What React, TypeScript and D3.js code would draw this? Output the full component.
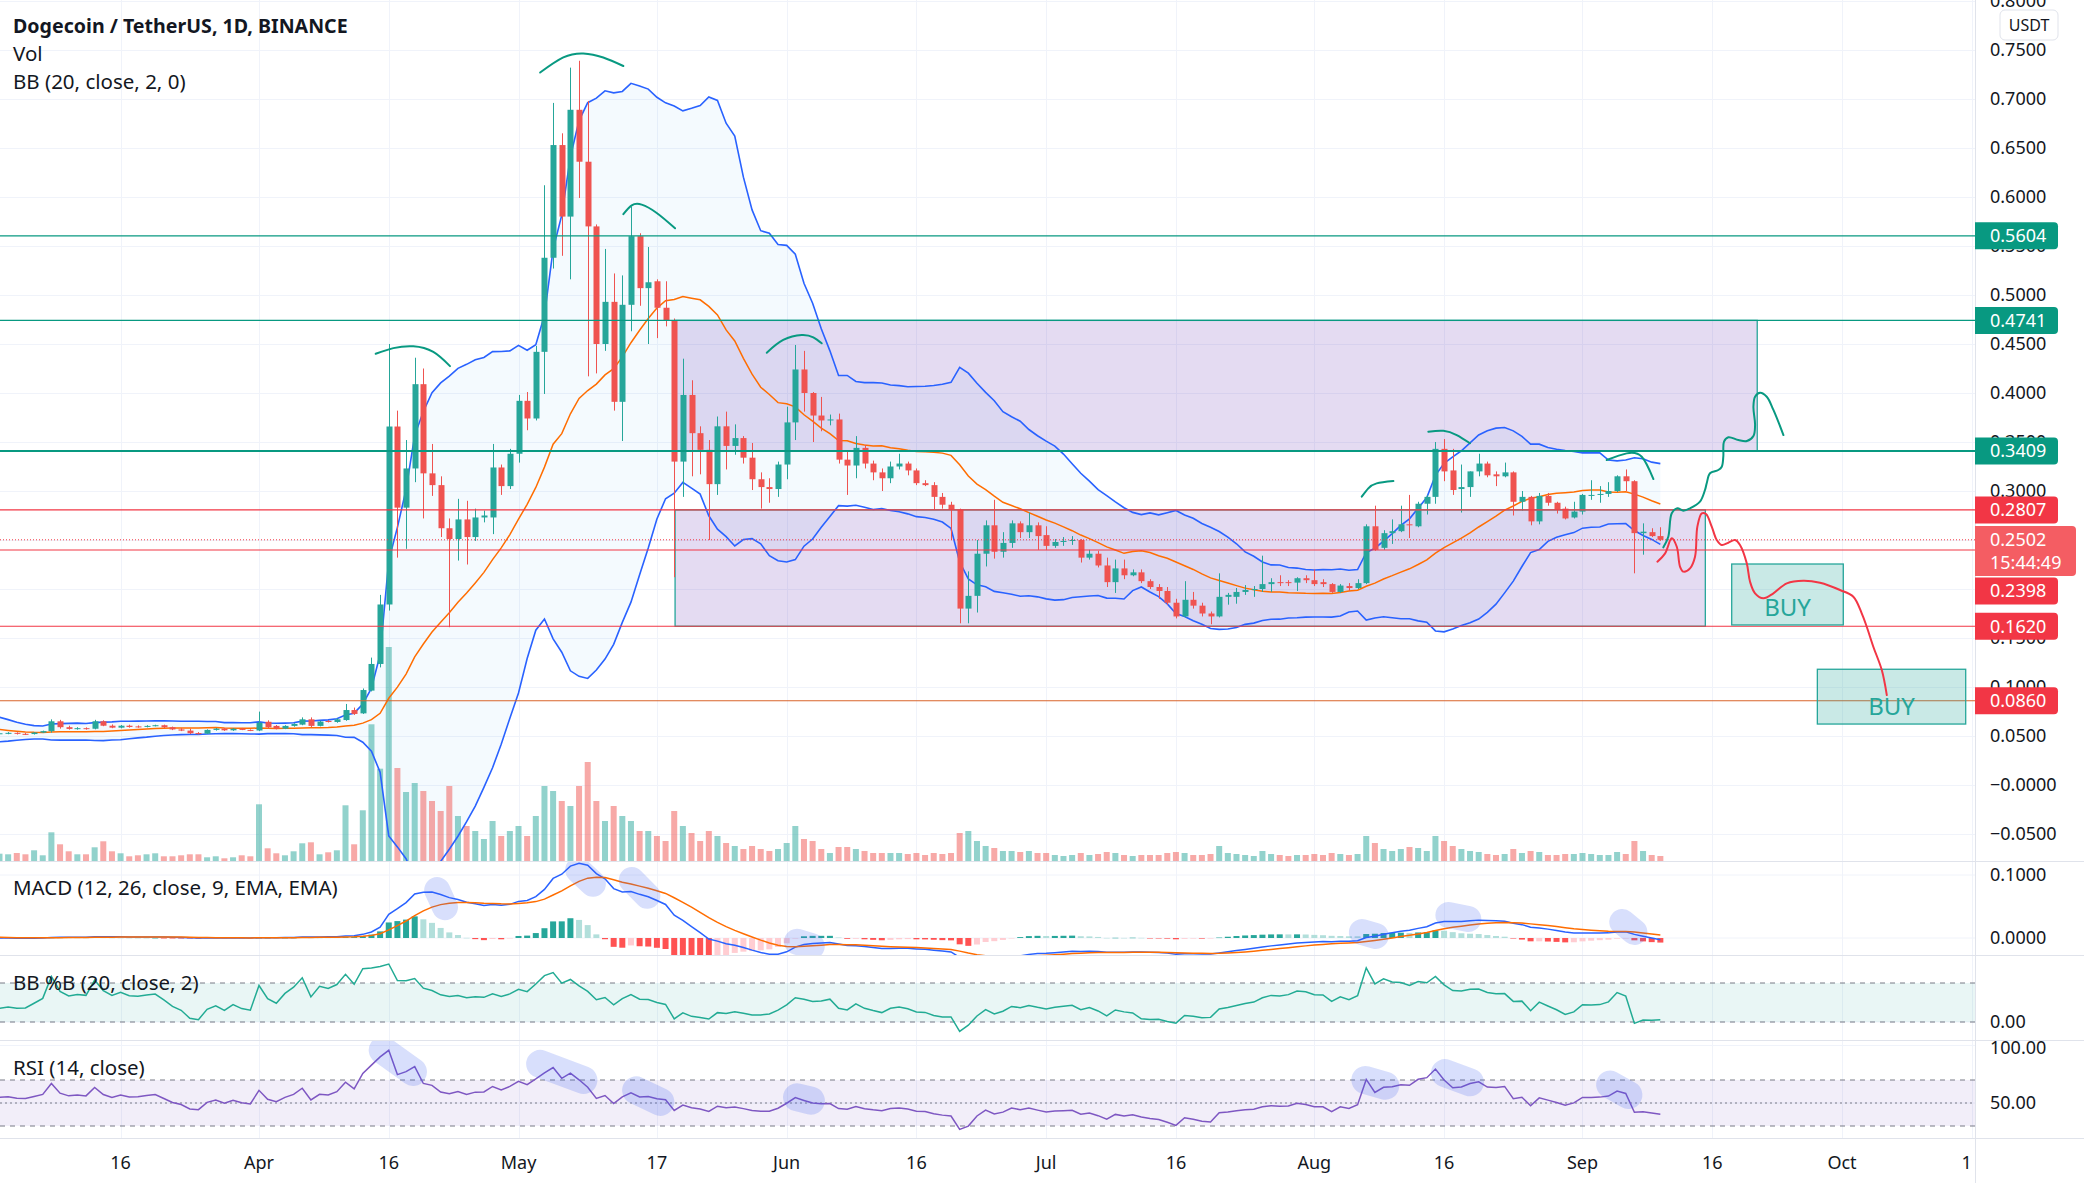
import React from 'react';
import * as d3 from 'd3';

const WIDTH = 2084;
const HEIGHT = 1183;
const PLOT_RIGHT = 1975;
const MAIN_BOTTOM = 861;
const MACD_BOTTOM = 955;
const BB_BOTTOM = 1040;
const RSI_BOTTOM = 1138;

const FIRST_DAY = Date.UTC(2021, 2, 1);
const DAY = 86400000;

// warm-up closes (Feb 2021), only used to seed the indicators
const febCloses = [0.0371, 0.0345, 0.0343, 0.053, 0.047, 0.059, 0.078, 0.078, 0.071, 0.069, 0.07, 0.069, 0.066, 0.062, 0.058, 0.0565, 0.0555, 0.0545, 0.056, 0.06, 0.0615, 0.056, 0.049, 0.0525, 0.0485, 0.0495, 0.051, 0.0505];

// [open, high, low, close]
const marCandles = [
  [0.0505, 0.054, 0.05, 0.0525], [0.0525, 0.054, 0.0515, 0.0528], [0.0528, 0.054, 0.0518, 0.0532], [0.0532, 0.0538, 0.0515, 0.0522],
  [0.0522, 0.053, 0.051, 0.052], [0.052, 0.054, 0.0515, 0.0535], [0.0535, 0.0555, 0.053, 0.055], [0.055, 0.067, 0.0535, 0.065],
  [0.065, 0.0665, 0.0575, 0.059], [0.059, 0.0605, 0.0565, 0.0572], [0.0572, 0.059, 0.0565, 0.058], [0.058, 0.0588, 0.0565, 0.0574],
  [0.0574, 0.0665, 0.0568, 0.065], [0.065, 0.066, 0.06, 0.0605], [0.0605, 0.0618, 0.058, 0.0585], [0.0585, 0.0612, 0.0578, 0.0605],
  [0.0605, 0.0615, 0.0585, 0.0592], [0.0598, 0.0608, 0.0585, 0.0594], [0.0594, 0.061, 0.0588, 0.0603], [0.0603, 0.0615, 0.0598, 0.061],
  [0.061, 0.0616, 0.058, 0.0589], [0.0589, 0.0596, 0.056, 0.0567], [0.0567, 0.058, 0.055, 0.0555], [0.0555, 0.0575, 0.052, 0.0528],
  [0.053, 0.054, 0.0515, 0.0524], [0.0524, 0.0568, 0.052, 0.0562], [0.0562, 0.0582, 0.0555, 0.0575], [0.0575, 0.058, 0.0552, 0.0558],
  [0.0558, 0.058, 0.0552, 0.0574], [0.0574, 0.0582, 0.056, 0.0562], [0.0562, 0.0568, 0.055, 0.0556],
];
const aprCandles = [
  [0.0556, 0.0749, 0.055, 0.0636], [0.0645, 0.066, 0.0575, 0.0589], [0.0603, 0.0612, 0.0568, 0.0575], [0.0575, 0.061, 0.057, 0.0603],
  [0.0603, 0.063, 0.0595, 0.0623], [0.0616, 0.069, 0.061, 0.067], [0.067, 0.069, 0.059, 0.0603], [0.0603, 0.0655, 0.0598, 0.0647],
  [0.0653, 0.0662, 0.0638, 0.0643], [0.0643, 0.068, 0.0635, 0.067], [0.0663, 0.0827, 0.0655, 0.0765], [0.0765, 0.079, 0.0715, 0.0725],
  [0.0731, 0.0985, 0.0725, 0.0969], [0.0963, 0.13, 0.0955, 0.1235], [0.1235, 0.194, 0.12, 0.1842], [0.1842, 0.45, 0.178, 0.3658],
  [0.3658, 0.382, 0.232, 0.283], [0.283, 0.352, 0.241, 0.323], [0.323, 0.436, 0.309, 0.409], [0.409, 0.425, 0.272, 0.318],
  [0.318, 0.348, 0.295, 0.306], [0.306, 0.315, 0.253, 0.262], [0.262, 0.272, 0.161, 0.251], [0.251, 0.292, 0.229, 0.271],
  [0.271, 0.29, 0.225, 0.253], [0.253, 0.282, 0.249, 0.273], [0.273, 0.28, 0.268, 0.275], [0.273, 0.348, 0.256, 0.324],
  [0.324, 0.327, 0.296, 0.305], [0.305, 0.343, 0.302, 0.338],
];
const mayCandles = [
  [0.338, 0.398, 0.329, 0.392], [0.392, 0.401, 0.362, 0.374], [0.374, 0.448, 0.372, 0.442], [0.442, 0.612, 0.399, 0.538],
  [0.538, 0.696, 0.527, 0.653], [0.653, 0.665, 0.54, 0.58], [0.58, 0.732, 0.516, 0.689], [0.689, 0.739, 0.599, 0.636],
  [0.636, 0.698, 0.417, 0.57], [0.57, 0.572, 0.42, 0.45], [0.45, 0.547, 0.443, 0.493], [0.493, 0.522, 0.382, 0.391],
  [0.391, 0.52, 0.351, 0.49], [0.49, 0.59, 0.463, 0.56], [0.56, 0.563, 0.489, 0.507], [0.507, 0.549, 0.45, 0.513],
  [0.514, 0.516, 0.456, 0.487], [0.487, 0.514, 0.468, 0.474], [0.474, 0.476, 0.212, 0.33], [0.33, 0.435, 0.294, 0.398],
  [0.398, 0.413, 0.315, 0.359], [0.359, 0.366, 0.317, 0.342], [0.342, 0.352, 0.25, 0.307], [0.307, 0.376, 0.296, 0.366],
  [0.366, 0.381, 0.322, 0.346], [0.346, 0.368, 0.337, 0.354], [0.354, 0.356, 0.328, 0.334], [0.334, 0.349, 0.301, 0.312],
  [0.312, 0.319, 0.282, 0.304], [0.304, 0.313, 0.288, 0.302], [0.302, 0.33, 0.294, 0.327],
];
const junCandles = [
  [0.327, 0.386, 0.312, 0.37], [0.37, 0.449, 0.352, 0.424], [0.424, 0.443, 0.381, 0.4], [0.4, 0.401, 0.35, 0.377],
  [0.377, 0.396, 0.361, 0.372], [0.372, 0.378, 0.367, 0.373], [0.373, 0.379, 0.328, 0.332], [0.332, 0.34, 0.296, 0.326],
  [0.326, 0.356, 0.313, 0.344], [0.344, 0.347, 0.323, 0.328], [0.328, 0.331, 0.311, 0.319], [0.319, 0.323, 0.3, 0.313],
  [0.313, 0.33, 0.308, 0.325], [0.325, 0.338, 0.322, 0.328], [0.328, 0.33, 0.316, 0.321], [0.321, 0.323, 0.306, 0.308],
  [0.308, 0.311, 0.305, 0.306], [0.306, 0.309, 0.281, 0.294], [0.294, 0.298, 0.282, 0.286], [0.286, 0.289, 0.25, 0.281],
  [0.281, 0.282, 0.165, 0.18], [0.18, 0.218, 0.165, 0.193], [0.193, 0.25, 0.176, 0.236], [0.236, 0.27, 0.223, 0.265],
  [0.265, 0.291, 0.231, 0.238], [0.238, 0.258, 0.232, 0.247], [0.247, 0.27, 0.242, 0.267], [0.267, 0.269, 0.252, 0.258],
  [0.258, 0.278, 0.252, 0.265], [0.265, 0.268, 0.24, 0.254],
];
const julCandles = [
  [0.255, 0.264, 0.24, 0.244], [0.244, 0.251, 0.242, 0.248], [0.248, 0.253, 0.244, 0.249], [0.249, 0.254, 0.245, 0.25],
  [0.25, 0.251, 0.227, 0.232], [0.232, 0.24, 0.23, 0.236], [0.236, 0.239, 0.222, 0.224], [0.224, 0.232, 0.202, 0.207],
  [0.207, 0.23, 0.196, 0.221], [0.221, 0.23, 0.21, 0.214], [0.214, 0.22, 0.213, 0.217], [0.217, 0.22, 0.206, 0.208],
  [0.208, 0.21, 0.2, 0.202], [0.202, 0.205, 0.19, 0.198], [0.198, 0.202, 0.184, 0.186], [0.186, 0.19, 0.17, 0.172],
  [0.172, 0.208, 0.171, 0.189], [0.189, 0.197, 0.18, 0.183], [0.183, 0.186, 0.172, 0.175], [0.175, 0.177, 0.164, 0.172],
  [0.172, 0.216, 0.171, 0.192], [0.192, 0.196, 0.184, 0.194], [0.192, 0.201, 0.185, 0.197], [0.197, 0.204, 0.194, 0.199],
  [0.199, 0.203, 0.192, 0.2], [0.2, 0.234, 0.197, 0.205], [0.205, 0.211, 0.197, 0.207], [0.207, 0.214, 0.203, 0.206],
  [0.207, 0.209, 0.203, 0.2065], [0.2065, 0.212, 0.198, 0.211], [0.211, 0.214, 0.206, 0.209],
];
const augCandles = [
  [0.209, 0.22, 0.203, 0.205], [0.207, 0.21, 0.202, 0.205], [0.205, 0.206, 0.196, 0.197], [0.197, 0.205, 0.196, 0.2035],
  [0.203, 0.206, 0.198, 0.201], [0.201, 0.21, 0.2, 0.206], [0.206, 0.266, 0.205, 0.264], [0.264, 0.285, 0.239, 0.24],
  [0.242, 0.26, 0.24, 0.257], [0.257, 0.271, 0.246, 0.259], [0.259, 0.285, 0.258, 0.266], [0.266, 0.296, 0.252, 0.265],
  [0.264, 0.289, 0.263, 0.287], [0.287, 0.296, 0.276, 0.294], [0.294, 0.35, 0.287, 0.343], [0.343, 0.353, 0.31, 0.32],
  [0.321, 0.343, 0.296, 0.301], [0.302, 0.327, 0.278, 0.304], [0.304, 0.32, 0.294, 0.32], [0.32, 0.338, 0.315, 0.328],
  [0.328, 0.33, 0.314, 0.316], [0.317, 0.32, 0.305, 0.315], [0.315, 0.329, 0.314, 0.319], [0.319, 0.32, 0.275, 0.289],
  [0.289, 0.3, 0.28, 0.294], [0.294, 0.295, 0.265, 0.269], [0.269, 0.298, 0.266, 0.295], [0.295, 0.298, 0.285, 0.288],
  [0.288, 0.289, 0.277, 0.281], [0.282, 0.284, 0.271, 0.272], [0.273, 0.289, 0.272, 0.279],
];
const sepCandles = [
  [0.279, 0.297, 0.276, 0.296], [0.295, 0.311, 0.291, 0.296], [0.296, 0.305, 0.288, 0.297], [0.297, 0.309, 0.294, 0.3],
  [0.3, 0.316, 0.299, 0.315], [0.315, 0.322, 0.3, 0.31], [0.31, 0.311, 0.216, 0.257], [0.257, 0.267, 0.235, 0.2585],
  [0.258, 0.262, 0.253, 0.254], [0.254, 0.263, 0.249, 0.2502],
];

// volume (relative units)
const marVolumes = [7, 7.3, 6.7, 8, 6.7, 10.7, 5.7, 28.7, 16.7, 9.7, 6.7, 6.7, 13.7, 19.7, 9.7, 7.7, 4.7, 5.7, 6.7, 7.7, 4.7, 4.7, 5.7, 6.7, 6.7, 3.7, 4.7, 2.7, 3.7, 5.7, 4.7];
const aprVolumes = [56.7, 12.7, 7.7, 5.7, 9.7, 17.7, 18.7, 6.7, 8.7, 10.7, 55.7, 16.7, 50.7, 136.7, 92.3, 214, 93, 69, 78, 70, 60, 50, 75, 45, 35, 30, 22, 40, 25, 30];
const mayVolumes = [35, 25, 45, 75, 70, 60, 55, 75, 99, 60, 40, 55, 45, 40, 30, 30, 25, 20, 50, 35, 28, 20, 30, 25, 18, 15, 12, 15, 12, 10, 12];
const junVolumes = [18, 35, 22, 20, 12, 8, 14, 14, 12, 10, 8, 8, 8, 8, 7, 8, 6, 8, 7, 8, 28, 30, 20, 15, 13, 10, 10, 9, 10, 8];
const julVolumes = [8, 6, 5, 6, 8, 6, 7, 9, 8, 6, 5, 6, 6, 6, 8, 9, 8, 6, 6, 7, 15, 8, 7, 6, 5, 10, 7, 6, 5, 6, 6];
const augVolumes = [7, 6, 8, 7, 6, 7, 25, 18, 12, 10, 12, 14, 13, 10, 25, 20, 15, 12, 10, 9, 7, 6, 7, 12, 8, 10, 9, 6, 6, 7, 7];
const sepVolumes = [8, 7, 6, 6, 9, 7, 20, 10, 6, 5];

const priceTicks = [0.8, 0.75, 0.7, 0.65, 0.6, 0.55, 0.5, 0.45, 0.4, 0.35, 0.3, 0.25, 0.2, 0.15, 0.1, 0.05, 0, -0.05];
const priceTickLabels = ['0.8000', '0.7500', '0.7000', '0.6500', '0.6000', '0.5500', '0.5000', '0.4500', '0.4000', '0.3500', '0.3000', '0.2500', '0.2000', '0.1500', '0.1000', '0.0500', '\u22120.0000', '\u22120.0500'];

const timeTickDates = ['2021-03-16', '2021-04-01', '2021-04-16', '2021-05-01', '2021-05-17', '2021-06-01', '2021-06-16', '2021-07-01', '2021-07-16', '2021-08-01', '2021-08-16', '2021-09-01', '2021-09-16', '2021-10-01', '2021-10-16'];
const timeTickLabels = ['16', 'Apr', '16', 'May', '17', 'Jun', '16', 'Jul', '16', 'Aug', '16', 'Sep', '16', 'Oct', '16'];

// horizontal levels drawn on the chart
const tealLevels = [0.5604, 0.4741, 0.3409];
const redLevels = [0.2807, 0.2398, 0.162];
const orangeLevels = [0.086];
const lastPrice = 0.2502;

// rectangles [startIndex, endIndex, top, bottom]
const zoneBoxes = [[79.1, 204.2, 0.4741, 0.3409], [79.1, 198.2, 0.2807, 0.162]];
const buyBoxes = [[201.25, 214.15, 0.2255, 0.1633], [211.15, 228.3, 0.1181, 0.0622]];

// hand-drawn arcs [index, price]
const arcs = [
  [[44.49, 0.44], [46.53, 0.4458], [48.84, 0.4477], [51.15, 0.4419], [53.08, 0.4274]],
  [[63.5, 0.727], [66.18, 0.7424], [68.49, 0.7465], [70.8, 0.7424], [73.12, 0.7337]],
  [[73.12, 0.5825], [74.09, 0.5915], [75.24, 0.5922], [76.98, 0.5837], [79.1, 0.5681]],
  [[89.7, 0.4411], [91.6, 0.4541], [93.74, 0.4592], [95.08, 0.4568], [96.05, 0.4507]],
  [[158.48, 0.2942], [159.24, 0.3027], [160.2, 0.3078], [162.14, 0.3102]],
  [[166.18, 0.3605], [167.92, 0.3614], [169.46, 0.3571], [171.0, 0.3487]],
  [[186.8, 0.3316], [189.1, 0.3384], [190.85, 0.335], [192.2, 0.3122]],
];
const bullPath = [
  [193.35, 0.2425], [193.92, 0.2534], [194.32, 0.2772], [194.96, 0.2823], [195.66, 0.2799], [196.43, 0.2823], [197.58, 0.2891],
  [198.16, 0.301], [198.36, 0.3079], [198.74, 0.3181], [199.7, 0.3214], [200.1, 0.3248], [200.28, 0.335], [200.36, 0.3503],
  [200.86, 0.3548], [202.02, 0.352], [203.0, 0.351], [203.76, 0.3561], [203.95, 0.3673], [203.76, 0.386], [203.95, 0.3962],
  [204.53, 0.4003], [205.3, 0.3962], [206.07, 0.3827], [207.23, 0.3571],
];
const bearPath = [
  [192.66, 0.2279], [193.55, 0.2364], [194.32, 0.2517], [194.9, 0.2431], [195.28, 0.2227], [195.66, 0.2177], [196.43, 0.2211],
  [197.01, 0.233], [197.28, 0.2636], [197.79, 0.2772], [198.28, 0.2765], [198.94, 0.2636], [199.52, 0.25], [200.1, 0.2449],
  [200.86, 0.2472], [201.64, 0.25], [202.21, 0.2449], [202.99, 0.2262], [203.37, 0.2074], [203.95, 0.1956], [204.91, 0.1905],
  [206.07, 0.1956], [207.62, 0.2058], [209.53, 0.2085], [211.46, 0.2064], [213.77, 0.199], [215.31, 0.1921], [216.28, 0.1752],
  [216.86, 0.1615], [217.62, 0.1411], [218.6, 0.1173], [219.18, 0.0918],
];
// highlighter strokes [i1, v1, i2, v2]
const macdMarks = [[51.6, 0.076, 52.5, 0.049], [67.9, 0.108, 69.6, 0.086], [74.1, 0.092, 75.9, 0.067], [93.2, -0.006, 94.9, -0.013], [158.5, 0.0095, 160.1, 0.0032], [168.5, 0.0365, 170.8, 0.0302], [188.6, 0.0254, 190, 0.0095]];
const rsiMarks = [[45.3, 96, 48.8, 77], [63.5, 84, 68.5, 70], [74.6, 61, 77.4, 51], [93.2, 55, 94.8, 52], [158.9, 70, 161.2, 65], [168.1, 76, 171, 68], [187.2, 66, 189.3, 57]];

const candles = [...marCandles, ...aprCandles, ...mayCandles, ...junCandles, ...julCandles, ...augCandles, ...sepCandles];
const volumes = [...marVolumes, ...aprVolumes, ...mayVolumes, ...junVolumes, ...julVolumes, ...augVolumes, ...sepVolumes];

const UP = '#26a69a';
const DOWN = '#ef5350';
const TEAL = '#089981';
const RED = '#f23645';
const FONT = "'Noto Sans', 'Open Sans', sans-serif";

function ema(src: number[], len: number) {
  const a = 2 / (len + 1);
  const out: number[] = [];
  src.forEach((v, i) => out.push(i === 0 ? v : a * v + (1 - a) * out[i - 1]));
  return out;
}

function computeIndicators() {
  const closes = [...febCloses, ...candles.map(c => c[3])];
  const off = febCloses.length;
  const upper: number[] = [], basis: number[] = [], lower: number[] = [], pctB: number[] = [];
  for (let i = off; i < closes.length; i++) {
    const w = closes.slice(i - 19, i + 1);
    const m = d3.mean(w)!;
    const sd = Math.sqrt(d3.mean(w.map(v => (v - m) ** 2))!);
    upper.push(m + 2 * sd); basis.push(m); lower.push(m - 2 * sd);
    pctB.push((closes[i] - (m - 2 * sd)) / (4 * sd));
  }
  const e12 = ema(closes, 12), e26 = ema(closes, 26);
  const macdAll = closes.map((_, i) => e12[i] - e26[i]);
  const sigAll = ema(macdAll, 9);
  const macd = macdAll.slice(off), signal = sigAll.slice(off);
  const hist = macd.map((m, i) => m - signal[i]);
  let up = 0, dn = 0;
  const rsiAll: number[] = [];
  for (let i = 1; i < closes.length; i++) {
    const ch = closes[i] - closes[i - 1];
    const u = Math.max(ch, 0), d = Math.max(-ch, 0);
    if (i <= 14) { up += u / 14; dn += d / 14; }
    else { up = (up * 13 + u) / 14; dn = (dn * 13 + d) / 14; }
    rsiAll.push(dn === 0 ? 100 : 100 - 100 / (1 + up / dn));
  }
  const rsi = rsiAll.slice(off - 1);
  return { upper, basis, lower, pctB, macd, signal, hist, rsi };
}

const ind = computeIndicators();

const xTime = d3.scaleUtc().domain([new Date(Date.UTC(2021, 3, 1)), new Date(Date.UTC(2021, 9, 1))]).range([259, 1842]);
const xi = (i: number) => xTime(new Date(FIRST_DAY + i * DAY));
const yP = d3.scaleLinear().domain([0, 0.8]).range([785, 1]);
const yVol = d3.scaleLinear().domain([0, 214]).range([MAIN_BOTTOM, MAIN_BOTTOM - 214]);
const yMacd = d3.scaleLinear().domain([0, 0.1]).range([938, 875]);
const yB = d3.scaleLinear().domain([0, 1]).range([1022, 983]);
const yRsi = d3.scaleLinear().domain([30, 70]).range([1126, 1080]);

function seriesPath(vals: number[], y: (v: number) => number) {
  return d3.line<number>().x((_, i) => xi(i)).y(v => y(v))(vals) || '';
}

function ptsPath(pts: number[][], curve: d3.CurveFactory = d3.curveCatmullRom) {
  return d3.line<number[]>().x(p => xi(p[0])).y(p => yP(p[1])).curve(curve)(pts) || '';
}

function labelBox(yc: number, h: number, w: number) {
  const x0 = PLOT_RIGHT, r = 4;
  const y0 = yc - h / 2;
  return `M${x0},${y0} H${x0 + w - r} Q${x0 + w},${y0} ${x0 + w},${y0 + r} V${y0 + h - r} Q${x0 + w},${y0 + h} ${x0 + w - r},${y0 + h} H${x0} Z`;
}

export default function App() {
  const bbArea = d3.area<number>().x((_, i) => xi(i)).y0((_, i) => yP(ind.lower[i])).y1(v => yP(v))(ind.upper) || '';
  const priceLabels = [
    { yc: yP(0.5604), color: TEAL, text: '0.5604' },
    { yc: yP(0.4741), color: TEAL, text: '0.4741' },
    { yc: yP(0.3409), color: TEAL, text: '0.3409' },
    { yc: yP(0.2807), color: RED, text: '0.2807' },
    { yc: yP(0.2398) + 41, color: RED, text: '0.2398' },
    { yc: yP(0.162), color: RED, text: '0.1620' },
    { yc: yP(0.086), color: RED, text: '0.0860' },
  ];
  const hlColor = 'rgba(62,94,240,0.2)';
  const LEG = 20.5;

  return (
    <svg width={WIDTH} height={HEIGHT} viewBox={`0 0 ${WIDTH} ${HEIGHT}`} style={{ position: 'absolute', left: 0, top: 0, background: '#fff' }} fontFamily={FONT}>
      <defs>
        <clipPath id="cMain"><rect x={0} y={0} width={PLOT_RIGHT} height={MAIN_BOTTOM} /></clipPath>
        <clipPath id="cMacd"><rect x={0} y={MAIN_BOTTOM} width={PLOT_RIGHT} height={MACD_BOTTOM - MAIN_BOTTOM} /></clipPath>
        <clipPath id="cBB"><rect x={0} y={MACD_BOTTOM} width={PLOT_RIGHT} height={BB_BOTTOM - MACD_BOTTOM} /></clipPath>
        <clipPath id="cRsi"><rect x={0} y={BB_BOTTOM} width={PLOT_RIGHT} height={RSI_BOTTOM - BB_BOTTOM} /></clipPath>
        <clipPath id="cTime"><rect x={0} y={RSI_BOTTOM} width={1971} height={HEIGHT - RSI_BOTTOM} /></clipPath>
      </defs>
      <rect x={0} y={0} width={WIDTH} height={HEIGHT} fill="#fff" />

      {/* grid */}
      <g stroke="#f0f3fa" strokeWidth={1}>
        {timeTickDates.map((d, k) => {
          const xx = Math.round(xTime(new Date(d + 'T00:00:00Z'))) + 0.5;
          return xx < PLOT_RIGHT ? <line key={k} x1={xx} x2={xx} y1={0} y2={RSI_BOTTOM} /> : null;
        })}
        {priceTicks.map((v, k) => <line key={k} x1={0} x2={PLOT_RIGHT} y1={Math.round(yP(v)) + 0.5} y2={Math.round(yP(v)) + 0.5} />)}
        {[0.1, 0].map((v, k) => <line key={'m' + k} x1={0} x2={PLOT_RIGHT} y1={yMacd(v)} y2={yMacd(v)} />)}
        <line x1={0} x2={PLOT_RIGHT} y1={yB(0)} y2={yB(0)} />
        {[100, 50].map((v, k) => <line key={'r' + k} x1={0} x2={PLOT_RIGHT} y1={yRsi(v)} y2={yRsi(v)} />)}
      </g>

      {/* main pane */}
      <g clipPath="url(#cMain)">
        <path d={bbArea} fill="rgba(33,150,243,0.05)" />
        {zoneBoxes.map((b, k) => (
          <rect key={k} x={xi(b[0])} y={yP(b[2])} width={xi(b[1]) - xi(b[0])} height={yP(b[3]) - yP(b[2])} fill="rgba(103,58,183,0.18)" stroke={UP} strokeWidth={1.3} />
        ))}
        {volumes.map((v, i) => {
          const c = candles[i];
          return <rect key={i} x={xi(i) - 3} y={yVol(v)} width={6} height={MAIN_BOTTOM - yVol(v)} fill={c[3] >= c[0] ? 'rgba(38,166,154,0.5)' : 'rgba(239,83,80,0.5)'} />;
        })}
        <path d={seriesPath(ind.upper, yP)} fill="none" stroke="#2962ff" strokeWidth={1.6} />
        <path d={seriesPath(ind.lower, yP)} fill="none" stroke="#2962ff" strokeWidth={1.6} />
        <path d={seriesPath(ind.basis, yP)} fill="none" stroke="#ff6d00" strokeWidth={1.5} />
        {candles.map((c, i) => {
          const [o, h, l, cl] = c;
          const col = cl >= o ? UP : DOWN;
          const xx = Math.round(xi(i));
          const top = yP(Math.max(o, cl)), bot = yP(Math.min(o, cl));
          return (
            <g key={i}>
              <line x1={xx + 0.5} x2={xx + 0.5} y1={yP(h)} y2={yP(l)} stroke={col} strokeWidth={1} />
              <rect x={xx - 2.5} y={top} width={6} height={Math.max(1, bot - top)} fill={col} />
            </g>
          );
        })}
        {tealLevels.map((v, k) => <line key={k} x1={0} x2={PLOT_RIGHT} y1={yP(v)} y2={yP(v)} stroke={TEAL} strokeWidth={v === 0.3409 ? 2 : 1.2} />)}
        {redLevels.map((v, k) => <line key={k} x1={0} x2={PLOT_RIGHT} y1={yP(v)} y2={yP(v)} stroke={RED} strokeWidth={1.1} />)}
        {orangeLevels.map((v, k) => <line key={k} x1={0} x2={PLOT_RIGHT} y1={yP(v)} y2={yP(v)} stroke="#d9652b" strokeWidth={1.1} />)}
        <line x1={0} x2={PLOT_RIGHT} y1={yP(lastPrice)} y2={yP(lastPrice)} stroke={RED} strokeWidth={1} strokeDasharray="1 2" />
        {arcs.map((a, k) => <path key={k} d={ptsPath(a, d3.curveNatural)} fill="none" stroke={TEAL} strokeWidth={2} strokeLinecap="round" />)}
        <path d={ptsPath(bullPath)} fill="none" stroke={TEAL} strokeWidth={2} strokeLinecap="round" />
        {buyBoxes.map((b, k) => (
          <rect key={k} x={xi(b[0])} y={yP(b[2])} width={xi(b[1]) - xi(b[0])} height={yP(b[3]) - yP(b[2])} fill="rgba(38,166,154,0.25)" stroke={UP} strokeWidth={1.3} />
        ))}
        <path d={ptsPath(bearPath)} fill="none" stroke={RED} strokeWidth={2} strokeLinecap="round" />
        {buyBoxes.map((b, k) => (
          <text key={k} x={(xi(b[0]) + xi(b[1])) / 2} y={yP(b[3]) - 9} textAnchor="middle" fontSize={24} fill={UP}>BUY</text>
        ))}
        {/* legend */}
        <text x={13} y={33} fontSize={19.6} fontWeight={700} fill="#131722">Dogecoin / TetherUS, 1D, BINANCE</text>
        <text x={13} y={61} fontSize={LEG} fill="#131722">Vol</text>
        <text x={13} y={89} fontSize={LEG} fill="#131722">BB (20, close, 2, 0)</text>
      </g>

      {/* MACD pane */}
      <g clipPath="url(#cMacd)">
        {ind.hist.map((h, i) => {
          const prev = i > 0 ? ind.hist[i - 1] : h;
          const col = h >= 0 ? (prev < h ? '#26a69a' : '#b2dfdb') : (prev < h ? '#ffcdd2' : '#ff5252');
          const y0 = yMacd(0), y1 = yMacd(h);
          return <rect key={i} x={xi(i) - 3} y={Math.min(y0, y1)} width={6} height={Math.max(0.5, Math.abs(y1 - y0))} fill={col} />;
        })}
        <path d={seriesPath(ind.macd, yMacd)} fill="none" stroke="#2962ff" strokeWidth={1.5} />
        <path d={seriesPath(ind.signal, yMacd)} fill="none" stroke="#ff6d00" strokeWidth={1.5} />
        {macdMarks.map((m, k) => <line key={k} x1={xi(m[0])} y1={yMacd(m[1])} x2={xi(m[2])} y2={yMacd(m[3])} stroke={hlColor} strokeWidth={26} strokeLinecap="round" />)}
        <text x={13} y={895} fontSize={LEG} fill="#131722">MACD (12, 26, close, 9, EMA, EMA)</text>
      </g>

      {/* BB %B pane */}
      <g clipPath="url(#cBB)">
        <rect x={0} y={yB(1)} width={PLOT_RIGHT} height={yB(0) - yB(1)} fill="rgba(38,166,154,0.1)" />
        <line x1={0} x2={PLOT_RIGHT} y1={yB(1)} y2={yB(1)} stroke="#787b86" strokeDasharray="5 5" strokeWidth={1} />
        <line x1={0} x2={PLOT_RIGHT} y1={yB(0)} y2={yB(0)} stroke="#787b86" strokeDasharray="5 5" strokeWidth={1} />
        <path d={seriesPath(ind.pctB, yB)} fill="none" stroke="#22ab94" strokeWidth={1.5} />
        <text x={13} y={990} fontSize={LEG} fill="#131722">BB %B (20, close, 2)</text>
      </g>

      {/* RSI pane */}
      <g clipPath="url(#cRsi)">
        <rect x={0} y={yRsi(70)} width={PLOT_RIGHT} height={yRsi(30) - yRsi(70)} fill="rgba(126,87,194,0.1)" />
        {[70, 50, 30].map((v, k) => <line key={k} x1={0} x2={PLOT_RIGHT} y1={yRsi(v)} y2={yRsi(v)} stroke="#787b86" strokeDasharray={v === 50 ? '2 3' : '5 5'} strokeWidth={1} />)}
        <path d={seriesPath(ind.rsi, yRsi)} fill="none" stroke="#7e57c2" strokeWidth={1.5} />
        {rsiMarks.map((m, k) => <line key={k} x1={xi(m[0])} y1={yRsi(m[1])} x2={xi(m[2])} y2={yRsi(m[3])} stroke={hlColor} strokeWidth={28} strokeLinecap="round" />)}
        <text x={13} y={1075} fontSize={LEG} fill="#131722">RSI (14, close)</text>
      </g>

      {/* separators */}
      <g stroke="#e0e3eb" strokeWidth={1}>
        {[MAIN_BOTTOM, MACD_BOTTOM, BB_BOTTOM, RSI_BOTTOM].map((y, k) => <line key={k} x1={0} x2={WIDTH} y1={y + 0.5} y2={y + 0.5} />)}
        <line x1={PLOT_RIGHT + 0.5} x2={PLOT_RIGHT + 0.5} y1={0} y2={HEIGHT} />
      </g>

      {/* price axis */}
      <g fontSize={18} fill="#131722">
        {priceTicks.map((v, k) => <text key={k} x={1990} y={yP(v)} dy="0.36em">{priceTickLabels[k]}</text>)}
        <text x={1990} y={yMacd(0.1)} dy="0.36em">0.1000</text>
        <text x={1990} y={yMacd(0)} dy="0.36em">0.0000</text>
        <text x={1990} y={yB(0)} dy="0.36em">0.00</text>
        <text x={1990} y={yRsi(100) + 2} dy="0.36em">100.00</text>
        <text x={1990} y={yRsi(50)} dy="0.36em">50.00</text>
      </g>
      <rect x={2000} y={10} width={58} height={30} rx={5} fill="#fff" stroke="#e0e3eb" />
      <text x={2029} y={25} dy="0.36em" textAnchor="middle" fontSize={16} fill="#131722">USDT</text>
      {priceLabels.map((p, k) => (
        <g key={k}>
          <path d={labelBox(p.yc, 27, 83)} fill={p.color} />
          <text x={1990} y={p.yc} dy="0.36em" fontSize={18} fill="#fff">{p.text}</text>
        </g>
      ))}
      <path d={labelBox(551, 50, 101)} fill="#f45d63" />
      <text x={1990} y={540} dy="0.36em" fontSize={18} fill="#fff">0.2502</text>
      <text x={1990} y={563} dy="0.36em" fontSize={18} fill="#fff">15:44:49</text>

      {/* time axis */}
      <g clipPath="url(#cTime)" fontSize={18} fill="#131722" textAnchor="middle">
        {timeTickDates.map((d, k) => <text key={k} x={xTime(new Date(d + 'T00:00:00Z'))} y={1163} dy="0.36em">{timeTickLabels[k]}</text>)}
      </g>
    </svg>
  );
}
